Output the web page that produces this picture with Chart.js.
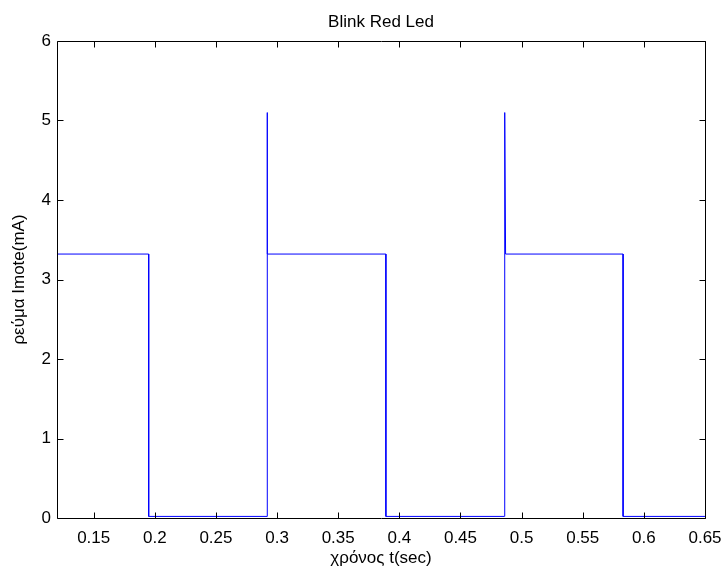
<!DOCTYPE html>
<html>
<head>
<meta charset="utf-8">
<script src="https://cdn.jsdelivr.net/npm/chart.js@4/dist/chart.umd.min.js"></script>
<style>
html,body{margin:0;padding:0;background:#fff;}
#wrap{width:724px;height:566px;}
</style>
</head>
<body>
<div id="wrap"><canvas id="c" width="724" height="566"></canvas></div>
<script>
// step waveform of the LED current
const timeValues = [0.12, 0.195, 0.195, 0.292, 0.292, 0.292, 0.389, 0.389, 0.486, 0.4862, 0.4869, 0.583, 0.583, 0.65];
const currentValues = [3.32, 3.32, 0.02, 0.02, 5.1, 3.32, 3.32, 0.02, 0.02, 5.1, 3.32, 3.32, 0.02, 0.02];
const xTicks = [0.15, 0.2, 0.25, 0.3, 0.35, 0.4, 0.45, 0.5, 0.55, 0.6, 0.65];
const yTicks = [0, 1, 2, 3, 4, 5, 6];
const chartTitle = 'Blink Red Led';

const points = timeValues.map((t, i) => ({x: t, y: currentValues[i]}));
const FONT = 'Liberation Sans, Arial, sans-serif';

const boxTicks = {
  id: 'boxTicks',
  afterDraw(chart) {
    const ctx = chart.ctx, a = chart.chartArea;
    const xs = chart.scales.x, ys = chart.scales.y;
    ctx.save();
    ctx.strokeStyle = '#000';
    ctx.lineWidth = 1;
    const l = Math.round(a.left) + 0.5, r = Math.round(a.right) + 0.5;
    const t = Math.round(a.top) + 0.5, b = Math.round(a.bottom) + 0.5;
    ctx.beginPath();
    ctx.moveTo(l, t); ctx.lineTo(r, t); ctx.lineTo(r, b); ctx.lineTo(l, b); ctx.closePath();
    ctx.stroke();
    const L = 6;
    ctx.beginPath();
    for (const v of xTicks) {
      const px = Math.round(xs.getPixelForValue(v)) + 0.5;
      ctx.moveTo(px, b); ctx.lineTo(px, b - L);
      ctx.moveTo(px, t); ctx.lineTo(px, t + L);
    }
    for (const v of yTicks) {
      const py = Math.round(ys.getPixelForValue(v)) + 0.5;
      ctx.moveTo(l, py); ctx.lineTo(l + L, py);
      ctx.moveTo(r, py); ctx.lineTo(r - L, py);
    }
    ctx.stroke();
    // title centred over the axes
    ctx.fillStyle = '#000';
    ctx.font = '17px ' + FONT;
    ctx.textAlign = 'center';
    ctx.textBaseline = 'alphabetic';
    ctx.fillText(chartTitle, (a.left + a.right) / 2, 27);
    ctx.restore();
  }
};

new Chart(document.getElementById('c'), {
  type: 'scatter',
  data: {
    datasets: [{
      data: points,
      showLine: true,
      borderColor: '#0000ff',
      borderWidth: 1,
      pointRadius: 0,
      tension: 0,
      fill: false
    }]
  },
  options: {
    responsive: false,
    animation: false,
    devicePixelRatio: 1,
    layout: {padding: {top: 41, right: 19, bottom: 0, left: 0}},
    plugins: {
      legend: {display: false},
      tooltip: {enabled: false},
      title: {display: false}
    },
    scales: {
      x: {
        type: 'linear',
        min: 0.12,
        max: 0.65,
        afterBuildTicks: s => { s.ticks = xTicks.map(v => ({value: v})); },
        afterFit: s => { s.height = 48; s.paddingLeft = 0; s.paddingRight = 0; },
        grid: {display: false, drawTicks: false},
        border: {display: false},
        ticks: {
          color: '#000',
          font: {family: FONT, size: 17},
          padding: 10,
          maxRotation: 0,
          autoSkip: false,
          callback: v => String(parseFloat(v.toFixed(2)))
        },
        title: {
          display: true,
          text: 'χρόνος t(sec)',
          color: '#000',
          font: {family: FONT, size: 17},
          padding: {top: 0, bottom: -3}
        }
      },
      y: {
        type: 'linear',
        min: 0,
        max: 6,
        afterBuildTicks: s => { s.ticks = yTicks.map(v => ({value: v})); },
        afterFit: s => { s.width = 57; s.paddingTop = 0; s.paddingBottom = 0; },
        grid: {display: false, drawTicks: false},
        border: {display: false},
        ticks: {
          color: '#000',
          font: {family: FONT, size: 17},
          padding: 6,
          autoSkip: false
        },
        title: {
          display: true,
          text: 'ρεύμα Imote(mA)',
          color: '#000',
          font: {family: FONT, size: 17},
          padding: {top: 9, bottom: 0}
        }
      }
    }
  },
  plugins: [boxTicks]
});
</script>
</body>
</html>
